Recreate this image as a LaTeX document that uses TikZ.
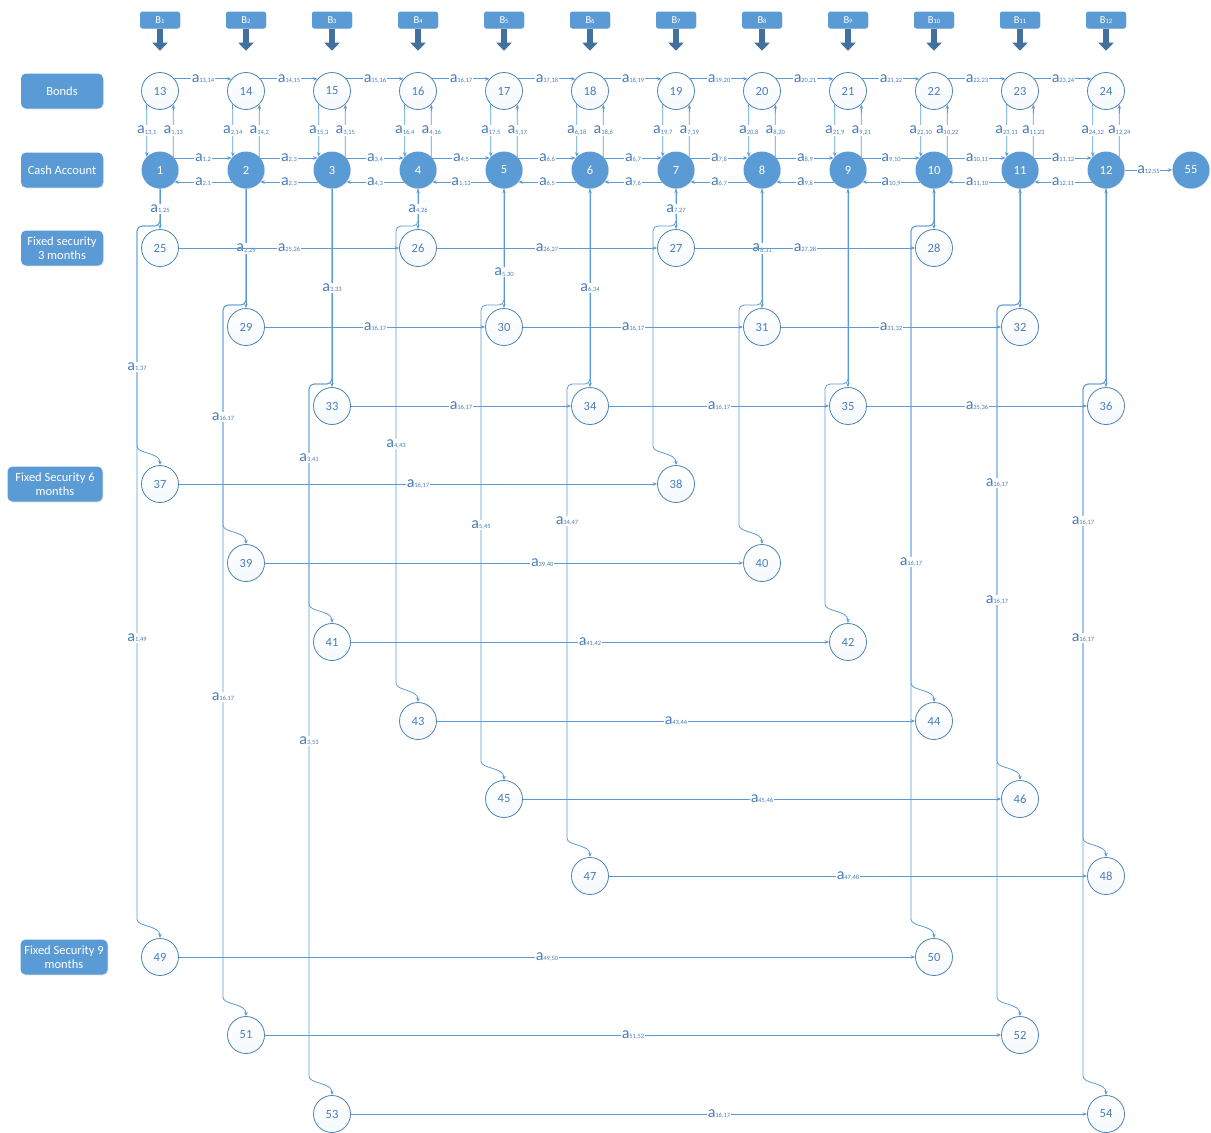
\documentclass[tikz,border=0pt]{standalone}
\usepackage{fontspec}
\setmainfont{Carlito}
\usetikzlibrary{arrows.meta,calc,shadows}
\definecolor{boxblue}{HTML}{5B9BD5}
\definecolor{lineblue}{HTML}{5B9BD5}
\definecolor{numblue}{HTML}{4A7EBB}
\definecolor{arrowblue}{HTML}{41719C}

\newcommand{\lab}[1]{{\fontsize{16}{16}\selectfont a}\raisebox{-0.6pt}{\fontsize{6.5}{6.5}\selectfont #1}}
\newcommand{\bsub}[1]{B\raisebox{-0.5pt}{\fontsize{6.5}{6.5}\selectfont #1}}

\tikzset{
  conn/.style={draw=lineblue, line width=0.8pt},
  lbl/.style={fill=white, text=numblue, inner sep=0.6pt},
  opennode/.style={circle, draw=lineblue!85!black, line width=0.8pt, minimum size=37pt, inner sep=0pt,
    top color=white, bottom color=lineblue!6, text=numblue, font=\fontsize{12.5}{12.5}\selectfont},
  cashnode/.style={circle, fill=boxblue, minimum size=37pt, inner sep=0pt, text=white,
    font=\fontsize{12.5}{12.5}\selectfont, drop shadow={opacity=0.2, shadow xshift=0.6pt, shadow yshift=-0.6pt}},
  sidebox/.style={rounded corners=5pt, fill=boxblue, text=white, align=center, minimum height=35pt,
    inner sep=2pt, font=\fontsize{12.5}{14}\selectfont, drop shadow={opacity=0.25, shadow xshift=0.8pt, shadow yshift=-0.8pt}},
  bbox/.style={rounded corners=2.5pt, fill=boxblue, text=white, minimum width=40pt, minimum height=17pt,
    inner sep=0pt, font=\fontsize{10.5}{10.5}\selectfont, drop shadow={opacity=0.2, shadow xshift=0.6pt, shadow yshift=-0.6pt}},
  bigarrow/.style={draw=arrowblue, line width=6.5pt, -{Triangle[length=8pt,width=15pt]}},
}

\begin{document}
\begin{tikzpicture}[x=1pt, y=-1pt, >={Stealth[length=4.5pt,width=3.5pt]}]
  \useasboundingbox (0,0) rectangle (1211,1133);

  % row titles
  \node[sidebox, minimum width=82pt] (bonds) at (62,91) {Bonds};
  \node[sidebox, minimum width=82pt] (cashacc) at (62,170) {Cash Account};
  \node[sidebox, minimum width=82pt] (fs3) at (62,248) {Fixed security\\3 months};
  \node[sidebox, minimum width=95pt] (fs6) at (55,484) {Fixed Security 6\\months};
  \node[sidebox, minimum width=87pt] (fs9) at (64,957) {Fixed Security 9\\months};

  % bonds, cash account and the B inflows
  \foreach \k [evaluate=\k as \x using {160+86*(\k-1)}, evaluate=\k as \b using int(\k+12)] in {1,...,12} {
    \node[bbox] (B\k) at (\x,20) {\bsub{\k}};
    \draw[bigarrow] (B\k.south) -- ++(0,22);
    \node[opennode] (n\b) at (\x,91) {\b};
    \node[cashnode] (n\k) at (\x,170) {\k};
  }
  \node[cashnode] (n55) at (1191,170) {55};

  % securities
  \foreach \n/\x/\y in {25/160/248, 26/418/248, 27/676/248, 28/934/248,
      29/246/327, 30/504/327, 31/762/327, 32/1020/327,
      33/332/406, 34/590/406, 35/848/406, 36/1106/406,
      37/160/484, 38/676/484, 39/246/563, 40/762/563,
      41/332/642, 42/848/642, 43/418/721, 44/934/721,
      45/504/799, 46/1020/799, 47/590/876, 48/1106/876,
      49/160/957, 50/934/957, 51/246/1035, 52/1020/1035,
      53/332/1114, 54/1106/1114}
    \node[opennode] (n\n) at (\x,\y) {\n};

  % branches leaving the cash column
  \foreach \s/\xb/\yj/\d in {1/137/226/37, 1/137/226/49, 2/223/305/39, 2/223/305/51,
      3/309/384/41, 3/309/384/53, 4/396/226/43, 5/481/305/45, 6/567/384/47,
      7/653/226/38, 8/739/305/40, 9/825/384/42, 10/911/226/44, 10/911/226/50,
      11/997/305/46, 11/997/305/52, 12/1083/384/48, 12/1083/384/54}
    \draw[conn, ->, rounded corners=5pt] (n\s.south) -- (n\s.south |- 0,\yj) -- (\xb,\yj)
      -- ($(n\d.north -| \xb,0)+(0,-24)$) to[out=-90, in=90] (n\d.north);

  \foreach \x/\y/\t in {137/367/{1,37}, 137/638/{1,49}, 223/417/{16,17}, 223/697/{16,17},
      309/458/{3,41}, 309/741/{3,53}, 396/444/{4,43}, 481/525/{5,45}, 567/521/{34,47},
      911/562/{16,17}, 997/483/{16,17}, 997/600/{16,17}, 1083/521/{16,17}, 1083/638/{16,17}}
    \node[lbl] at (\x,\y) {\lab{\t}};

  % cash to first security
  \draw[conn, ->] (n1) -- node[lbl] {\lab{1,25}} (n25);
  \draw[conn, ->] (n2) -- node[lbl] {\lab{2,29}} (n29);
  \draw[conn, ->] (n3) -- node[lbl] {\lab{3,33}} (n33);
  \draw[conn, <->] (n4) -- node[lbl] {\lab{4,26}} (n26);
  \draw[conn, <->] (n5) -- node[lbl, pos=0.7] {\lab{5,30}} (n30);
  \draw[conn, <->] (n6) -- node[lbl] {\lab{6,34}} (n34);
  \draw[conn, <->] (n7) -- node[lbl] {\lab{7,27}} (n27);
  \draw[conn, <->] (n8) -- node[lbl] {\lab{8,31}} (n31);
  \draw[conn, <->] (n9) -- (n35);
  \draw[conn, <->] (n10) -- (n28);
  \draw[conn, <->] (n11) -- (n32);
  \draw[conn, <->] (n12) -- (n36);

  % securities rolled over
  \foreach \s/\t/\txt/\p in {25/26/{25,26}/0.5, 26/27/{26,27}/0.5, 27/28/{27,28}/0.5,
      29/30/{16,17}/0.5, 30/31/{16,17}/0.5, 31/32/{31,32}/0.5,
      33/34/{16,17}/0.5, 34/35/{16,17}/0.5, 35/36/{35,36}/0.5,
      37/38/{16,17}/0.5, 39/40/{39,40}/0.58, 41/42/{41,42}/0.5, 43/44/{43,44}/0.5,
      45/46/{45,46}/0.5, 47/48/{47,48}/0.5, 49/50/{49,50}/0.5, 51/52/{51,52}/0.5,
      53/54/{16,17}/0.5}
    \draw[conn, ->] (n\s) -- node[lbl, pos=\p] {\lab{\txt}} (n\t);

  % bonds and cash account
  \foreach \k/\up/\dn [evaluate=\k as \j using int(\k+1), evaluate=\k as \b using int(\k+12),
      evaluate=\k as \bb using int(\k+13)] in {1/{1,2}/{2,1}, 2/{2,3}/{2,3}, 3/{3,4}/{4,3},
      4/{4,5}/{1,13}, 5/{6,6}/{6,5}, 6/{6,7}/{7,6}, 7/{7,8}/{6,7}, 8/{8,9}/{9,8},
      9/{9,10}/{10,9}, 10/{10,11}/{11,10}, 11/{11,12}/{12,11}} {
    \draw[conn, ->] (n\b.40) -- node[lbl] {\lab{\b,\bb}} (n\bb.140);
    \draw[conn, ->] (n\k.40) -- node[lbl] {\lab{\up}} (n\j.140);
    \draw[conn, ->] (n\j.-140) -- node[lbl] {\lab{\dn}} (n\k.-40);
  }
  \foreach \k/\dn/\up [evaluate=\k as \b using int(\k+12)] in {1/{13,1}/{1,13},
      2/{2,14}/{14,2}, 3/{15,3}/{3,15}, 4/{16,4}/{4,16}, 5/{17,5}/{5,17}, 6/{6,18}/{18,6},
      7/{19,7}/{7,19}, 8/{20,8}/{8,20}, 9/{21,9}/{9,21}, 10/{22,10}/{10,22},
      11/{23,11}/{11,23}, 12/{24,12}/{12,24}} {
    \draw[conn, ->] (n\b.-135) -- node[lbl] {\lab{\dn}} (n\k.135);
    \draw[conn, ->] (n\k.45) -- node[lbl] {\lab{\up}} (n\b.-45);
  }
  \draw[conn, ->] (n12) -- node[lbl] {\lab{12,55}} (n55);
\end{tikzpicture}
\end{document}
